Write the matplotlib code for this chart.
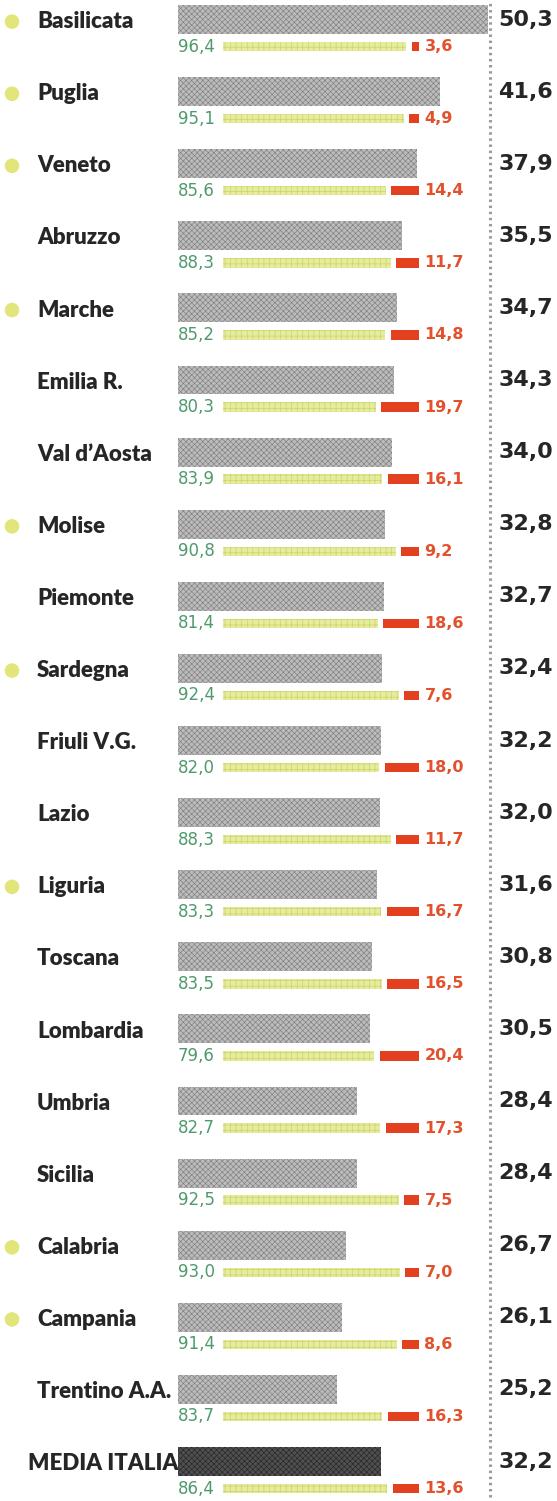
import matplotlib
matplotlib.use('Agg')
import matplotlib.pyplot as plt
from matplotlib.lines import Line2D

# dati
regioni = ['Basilicata', 'Puglia', 'Veneto', 'Abruzzo', 'Marche', 'Emilia R.',
           'Val d\u2019Aosta', 'Molise', 'Piemonte', 'Sardegna', 'Friuli V.G.',
           'Lazio', 'Liguria', 'Toscana', 'Lombardia', 'Umbria', 'Sicilia',
           'Calabria', 'Campania', 'Trentino A.A.', 'MEDIA ITALIA']
totale = [50.3, 41.6, 37.9, 35.5, 34.7, 34.3, 34.0, 32.8, 32.7, 32.4, 32.2,
          32.0, 31.6, 30.8, 30.5, 28.4, 28.4, 26.7, 26.1, 25.2, 32.2]
quota_verde = [96.4, 95.1, 85.6, 88.3, 85.2, 80.3, 83.9, 90.8, 81.4, 92.4, 82.0,
               88.3, 83.3, 83.5, 79.6, 82.7, 92.5, 93.0, 91.4, 83.7, 86.4]
quota_rossa = [3.6, 4.9, 14.4, 11.7, 14.8, 19.7, 16.1, 9.2, 18.6, 7.6, 18.0,
               11.7, 16.7, 16.5, 20.4, 17.3, 7.5, 7.0, 8.6, 16.3, 13.6]
con_pallino = ['Basilicata', 'Puglia', 'Veneto', 'Marche', 'Molise', 'Sardegna',
               'Liguria', 'Calabria', 'Campania']


def fmt(v):
    return f"{v:.1f}".replace('.', ',')


W, H = 557, 1501
fig = plt.figure(figsize=(W / 100, H / 100), dpi=100)
plt.rcParams['hatch.linewidth'] = 0.45

n = len(regioni)
passo = 72.1
y0 = 19.5
ylim = ((H - y0) / passo, -y0 / passo)
righe = list(range(n))

# barre grigie (totale), tagliate alla linea tratteggiata
x_grey0, px_grey = 178, 6.3
ax = fig.add_axes([0, 0, 488 / W, 1])
ax.set_xlim(-x_grey0 / px_grey, (488 - x_grey0) / px_grey)
ax.set_ylim(*ylim)
ax.axis('off')

col_grey = ['#bcbcbc'] * (n - 1) + ['#505050']
hatch_col = ['#808080'] * (n - 1) + ['#262626']
for i in righe:
    ax.barh(i, totale[i], height=0.40, color=col_grey[i], edgecolor=hatch_col[i],
            hatch='xxxxxx', linewidth=0)

# barre verde/rossa
x_s0, px_s = 223, 1.9
gap = 3
ax2 = fig.add_axes([0, 0, 1, 1])
ax2.set_xlim(-x_s0 / px_s, (W - x_s0) / px_s)
ax2.set_ylim(*ylim)
ax2.axis('off')
ax2.patch.set_alpha(0)

off = 0.375
for i in righe:
    yy = i + off
    ax2.barh(yy, quota_verde[i], height=0.13, color='#e6ec9c', edgecolor='#c8d26c',
             hatch='+++', linewidth=0)
    ax2.barh(yy, quota_rossa[i], left=quota_verde[i] + gap, height=0.13,
             color='#e2401f', linewidth=0)
    ax2.text(100 + gap + 3, yy, fmt(quota_rossa[i]), ha='left', va='center',
             fontsize=11.5, color='#e2512b', fontweight='bold', family='DejaVu Sans')
    ax.text(0, yy, fmt(quota_verde[i]), ha='left', va='center',
            fontsize=12, color='#4f9a6c', family='DejaVu Sans')

# etichette e valori totali
tr = ax2.get_yaxis_transform()
for i, nome in enumerate(regioni):
    if nome == 'MEDIA ITALIA':
        ax2.text(178 / W, i + 0.03, nome, transform=tr, ha='right', va='center',
                 fontsize=16, fontweight='heavy', color='#262626', family='Lato')
    else:
        ax2.text(37 / W, i + 0.03, nome, transform=tr, ha='left', va='center',
                 fontsize=16, fontweight='heavy', color='#262626', family='Lato')
    if nome in con_pallino:
        ax2.scatter([12 / W], [i + 0.03], transform=tr, s=110, color='#e2e67a',
                    edgecolors='none', zorder=3)
    ax2.text(553 / W, i, fmt(totale[i]), transform=tr, ha='right', va='center',
             fontsize=16, fontweight='bold', color='#262626', family='DejaVu Sans')

# linea tratteggiata verticale
fig.add_artist(Line2D([490 / W, 490 / W], [4 / H, 1], transform=fig.transFigure,
                      color='#9a9a9a', lw=2.2, ls=(0, (0.8, 1.2))))

fig.savefig('out.png', dpi=100)
